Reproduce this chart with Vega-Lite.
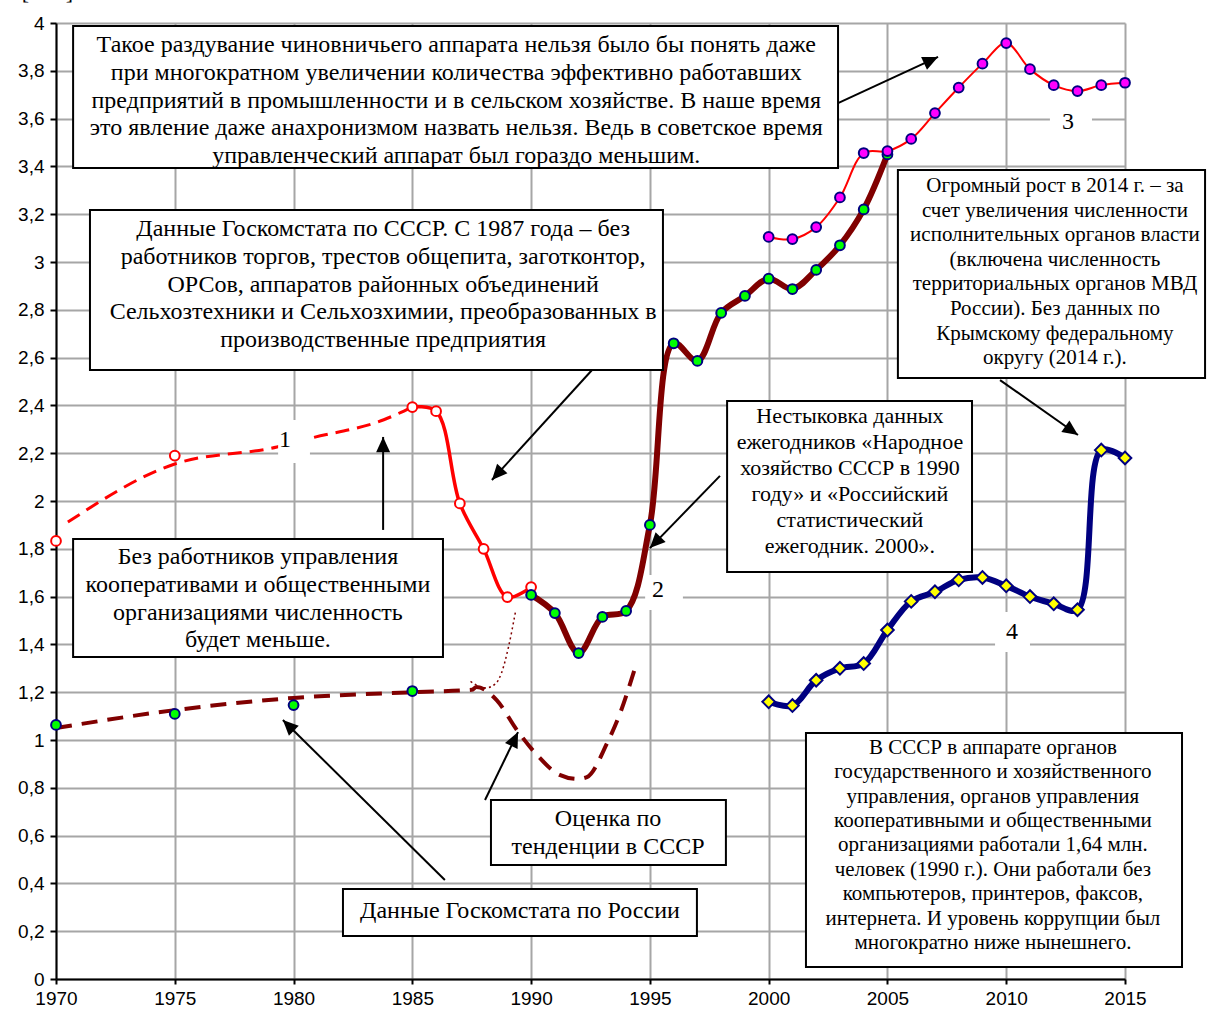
{
"$schema": "https://vega.github.io/schema/vega-lite/v6.json",
"width": 1069, "height": 956,
"autosize": {"type": "none"},
"padding": {"left": 56, "top": 23, "right": 83, "bottom": 35},
"background": "white",
"config": {
 "view": {"stroke": null},
 "axis": {"labelFont": "Liberation Sans", "labelFontSize": 19, "labelColor": "black", "tickColor": "black", "tickWidth": 2, "domainColor": "black", "domainWidth": 2, "gridColor": "#a6a6a6", "gridWidth": 2, "title": null}
},
"datasets": {
 "s1dash": [{"x":1970.5,"y":1.912},{"x":1975,"y":2.155},{"x":1979.3,"y":2.226},{"x":1980.7,"y":2.262},{"x":1983.8,"y":2.34},{"x":1985,"y":2.393}],
 "s1": [{"x":1970,"y":1.833},{"x":1975,"y":2.19},{"x":1985,"y":2.393},{"x":1986,"y":2.376},{"x":1987,"y":1.99},{"x":1988,"y":1.8},{"x":1989,"y":1.598},{"x":1990,"y":1.64}],
 "s2trend": [{"x":1970,"y":1.05},{"x":1975,"y":1.125},{"x":1980,"y":1.176},{"x":1985,"y":1.2},{"x":1987.5,"y":1.21},{"x":1987.7,"y":1.222},{"x":1988.55,"y":1.167},{"x":1989.4,"y":1.042},{"x":1990.25,"y":0.937},{"x":1991.2,"y":0.854},{"x":1991.95,"y":0.837},{"x":1992.35,"y":0.845},{"x":1993.2,"y":0.987},{"x":1993.75,"y":1.113},{"x":1994.37,"y":1.3}],
 "s2dot": [{"x":1987.45,"y":1.245},{"x":1988.08,"y":1.218},{"x":1988.5,"y":1.235},{"x":1988.75,"y":1.28},{"x":1989.05,"y":1.39},{"x":1989.34,"y":1.536}],
 "s2": [{"x":1970,"y":1.063},{"x":1975,"y":1.109},{"x":1980,"y":1.146},{"x":1985,"y":1.205},{"x":1990,"y":1.607},{"x":1991,"y":1.531},{"x":1992,"y":1.364},{"x":1993,"y":1.515},{"x":1994,"y":1.54},{"x":1995,"y":1.9},{"x":1996,"y":2.66},{"x":1997,"y":2.586},{"x":1998,"y":2.787},{"x":1999,"y":2.858},{"x":2000,"y":2.93},{"x":2001,"y":2.887},{"x":2002,"y":2.967},{"x":2003,"y":3.07},{"x":2004,"y":3.22},{"x":2005,"y":3.45}],
 "s3": [{"x":2000,"y":3.105},{"x":2001,"y":3.096},{"x":2002,"y":3.146},{"x":2003,"y":3.27},{"x":2004,"y":3.456},{"x":2005,"y":3.464},{"x":2006,"y":3.515},{"x":2007,"y":3.623},{"x":2008,"y":3.73},{"x":2009,"y":3.83},{"x":2010,"y":3.916},{"x":2011,"y":3.807},{"x":2012,"y":3.74},{"x":2013,"y":3.715},{"x":2014,"y":3.74},{"x":2015,"y":3.75}],
 "s4": [{"x":2000,"y":1.16},{"x":2001,"y":1.144},{"x":2002,"y":1.25},{"x":2003,"y":1.3},{"x":2004,"y":1.32},{"x":2005,"y":1.46},{"x":2006,"y":1.58},{"x":2007,"y":1.62},{"x":2008,"y":1.67},{"x":2009,"y":1.68},{"x":2010,"y":1.645},{"x":2011,"y":1.6},{"x":2012,"y":1.57},{"x":2013,"y":1.545},{"x":2014,"y":2.213},{"x":2015,"y":2.18}],
 "labels": [
  {"t":"1","x":1979.64,"y":2.255,"x1":1979.35,"x2":1980.69,"y1":2.339,"y2":2.159},
  {"t":"2","x":1995.34,"y":1.628,"x1":1994.8,"x2":1996.39,"y1":1.69,"y2":1.544},
  {"t":"3","x":2012.6,"y":3.586,"x1":2011.84,"x2":2013.61,"y1":3.678,"y2":3.51},
  {"t":"4","x":2010.24,"y":1.452,"x1":2009.53,"x2":2011.0,"y1":1.536,"y2":1.368}
 ],
 "arrows": [
  {"x1":2002.92,"y1":3.665,"x2":2007.13,"y2":3.858},
  {"x1":1993.83,"y1":2.686,"x2":1988.35,"y2":2.088},
  {"x1":1983.77,"y1":1.879,"x2":1983.77,"y2":2.268},
  {"x1":1986.37,"y1":0.414,"x2":1979.55,"y2":1.084},
  {"x1":1988.06,"y1":0.749,"x2":1989.45,"y2":1.033},
  {"x1":1997.95,"y1":2.105,"x2":1995.0,"y2":1.803},
  {"x1":2009.74,"y1":2.506,"x2":2013.02,"y2":2.276}
 ],
 "boxes": [
  {"id":"A","x1":1970.72,"x2":2002.92,"y1":3.987,"y2":3.393,"cx":1986.85,"cy":3.908,"t":"Такое раздувание чиновничьего аппарата нельзя было бы понять даже\nпри многократном увеличении количества эффективно работавших\nпредприятий в промышленности и в сельском хозяйстве. В наше время\nэто явление даже анахронизмом назвать нельзя. Ведь в советское время\nуправленческий аппарат был гораздо меньшим."},
  {"id":"B","x1":1971.43,"x2":1995.55,"y1":3.218,"y2":2.548,"cx":1983.77,"cy":3.138,"t":"Данные Госкомстата по СССР. С 1987 года – без\nработников торгов, трестов общепита, заготконтор,\nОРСов, аппаратов районных объединений\nСельхозтехники и Сельхозхимии, преобразованных в\nпроизводственные предприятия"},
  {"id":"C","x1":1970.72,"x2":1986.29,"y1":1.841,"y2":1.347,"cx":1978.5,"cy":1.766,"t":"Без работников управления\nкооперативами и общественными\nорганизациями  численность\nбудет меньше."},
  {"id":"D","x1":1988.31,"x2":1998.2,"y1":0.749,"y2":0.477,"cx":1993.24,"cy":0.669,"t":"Оценка по\nтенденции в СССР"},
  {"id":"E","x1":1982.08,"x2":1996.98,"y1":0.377,"y2":0.18,"cx":1989.53,"cy":0.285,"t":"Данные Госкомстата по России"},
  {"id":"F","x1":1998.25,"x2":2008.56,"y1":2.418,"y2":1.703,"cx":2003.42,"cy":2.356,"t":"Нестыковка данных\nежегодников «Народное\nхозяйство СССР в 1990\nгоду» и «Российский\nстатистический\nежегодник. 2000»."},
  {"id":"G","x1":2005.44,"x2":2018.37,"y1":3.385,"y2":2.515,"cx":2012.05,"cy":3.318,"t":"Огромный рост в 2014 г. – за\nсчет увеличения численности\nисполнительных органов власти\n(включена численность\nтерриториальных органов МВД\nРоссии). Без данных по\nКрымскому федеральному\nокругу (2014 г.)."},
  {"id":"H","x1":2001.57,"x2":2017.4,"y1":1.029,"y2":0.05,"cx":2009.44,"cy":0.967,"t":"В СССР в аппарате органов\nгосударственного и хозяйственного\nуправления, органов управления\nкооперативными и общественными\nорганизациями работали 1,64 млн.\nчеловек (1990 г.). Они работали без\nкомпьютеров, принтеров, факсов,\nинтернета. И уровень коррупции был\nмногократно ниже нынешнего."}
 ],
 "unit": [{"x":1969.75,"y":4.1,"t":"[млн]."}]
},
"layer": [
 {"data": {"name": "s1dash"},
  "mark": {"type": "line", "color": "#ff0000", "strokeWidth": 3, "strokeDash": [14, 8], "interpolate": "monotone"},
  "encoding": {
   "x": {"field": "x", "type": "quantitative", "scale": {"domain": [1970, 2015], "nice": false, "zero": false},
         "axis": {"values": [1970,1975,1980,1985,1990,1995,2000,2005,2010,2015], "format": "d", "tickSize": 5, "labelPadding": 5, "labelFlush": false, "grid": true, "title": null}},
   "y": {"field": "y", "type": "quantitative", "scale": {"domain": [0, 4], "nice": false, "zero": true},
         "axis": {"values": [0,0.2,0.4,0.6,0.8,1,1.2,1.4,1.6,1.8,2,2.2,2.4,2.6,2.8,3,3.2,3.4,3.6,3.8,4], "labelExpr": "replace(format(datum.value, '~g'), '.', ',')", "tickSize": 6, "labelPadding": 6, "grid": true, "title": null}}
  }},
 {"data": {"name": "s1"}, "transform": [{"filter": "datum.x >= 1985"}],
  "mark": {"type": "line", "color": "#ff0000", "strokeWidth": 3.5, "interpolate": "catmull-rom"},
  "encoding": {"x": {"field": "x", "type": "quantitative"}, "y": {"field": "y", "type": "quantitative"}}},
 {"data": {"name": "s2trend"},
  "mark": {"type": "line", "color": "#800000", "strokeWidth": 4, "strokeDash": [16, 10], "interpolate": "monotone"},
  "encoding": {"x": {"field": "x", "type": "quantitative"}, "y": {"field": "y", "type": "quantitative"}}},
 {"data": {"name": "s2dot"},
  "mark": {"type": "line", "color": "#800000", "strokeWidth": 1.5, "strokeDash": [2, 3], "interpolate": "monotone"},
  "encoding": {"x": {"field": "x", "type": "quantitative"}, "y": {"field": "y", "type": "quantitative"}}},
 {"data": {"name": "s2"}, "transform": [{"filter": "datum.x >= 1990"}],
  "mark": {"type": "line", "color": "#800000", "strokeWidth": 6, "interpolate": "catmull-rom"},
  "encoding": {"x": {"field": "x", "type": "quantitative"}, "y": {"field": "y", "type": "quantitative"}}},
 {"data": {"name": "s3"},
  "mark": {"type": "line", "color": "#ff0000", "strokeWidth": 2, "interpolate": "catmull-rom"},
  "encoding": {"x": {"field": "x", "type": "quantitative"}, "y": {"field": "y", "type": "quantitative"}}},
 {"data": {"name": "s4"},
  "mark": {"type": "line", "color": "#000080", "strokeWidth": 6, "interpolate": "catmull-rom"},
  "encoding": {"x": {"field": "x", "type": "quantitative"}, "y": {"field": "y", "type": "quantitative"}}},
 {"data": {"name": "s1"},
  "mark": {"type": "point", "shape": "circle", "filled": true, "fill": "white", "stroke": "#ff0000", "strokeWidth": 2, "size": 95, "opacity": 1},
  "encoding": {"x": {"field": "x", "type": "quantitative"}, "y": {"field": "y", "type": "quantitative"}}},
 {"data": {"name": "s2"},
  "mark": {"type": "point", "shape": "circle", "filled": true, "fill": "#00ff00", "stroke": "#000080", "strokeWidth": 2, "size": 95, "opacity": 1},
  "encoding": {"x": {"field": "x", "type": "quantitative"}, "y": {"field": "y", "type": "quantitative"}}},
 {"data": {"name": "s3"},
  "mark": {"type": "point", "shape": "circle", "filled": true, "fill": "#ff00ff", "stroke": "#000080", "strokeWidth": 2, "size": 95, "opacity": 1},
  "encoding": {"x": {"field": "x", "type": "quantitative"}, "y": {"field": "y", "type": "quantitative"}}},
 {"data": {"name": "s4"},
  "mark": {"type": "point", "shape": "diamond", "filled": true, "fill": "#ffff00", "stroke": "#000080", "strokeWidth": 2, "size": 160, "opacity": 1},
  "encoding": {"x": {"field": "x", "type": "quantitative"}, "y": {"field": "y", "type": "quantitative"}}},
 {"data": {"name": "labels"},
  "mark": {"type": "rect", "fill": "white", "stroke": null},
  "encoding": {"x": {"field": "x1", "type": "quantitative"}, "x2": {"field": "x2"}, "y": {"field": "y1", "type": "quantitative"}, "y2": {"field": "y2"}}},
 {"data": {"name": "labels"},
  "mark": {"type": "text", "font": "Liberation Serif", "fontSize": 24, "color": "black", "align": "center", "baseline": "middle"},
  "encoding": {"x": {"field": "x", "type": "quantitative"}, "y": {"field": "y", "type": "quantitative"}, "text": {"field": "t"}}},
 {"data": {"name": "arrows"},
  "mark": {"type": "rule", "color": "black", "strokeWidth": 2},
  "encoding": {"x": {"field": "x1", "type": "quantitative"}, "x2": {"field": "x2"}, "y": {"field": "y1", "type": "quantitative"}, "y2": {"field": "y2"}}},
 {"data": {"name": "arrows"},
  "transform": [{"calculate": "atan2((datum.x2 - datum.x1) * 23.756, (datum.y2 - datum.y1) * 239) * 180 / PI", "as": "ang"}],
  "mark": {"type": "point", "shape": "M0,0L0.5,1.1L-0.5,1.1Z", "filled": true, "color": "black", "size": 784, "opacity": 1},
  "encoding": {"x": {"field": "x2", "type": "quantitative"}, "y": {"field": "y2", "type": "quantitative"}, "angle": {"field": "ang", "type": "quantitative", "scale": null}}},
 {"data": {"name": "boxes"},
  "mark": {"type": "rect", "fill": "white", "stroke": "black", "strokeWidth": 2},
  "encoding": {"x": {"field": "x1", "type": "quantitative"}, "x2": {"field": "x2"}, "y": {"field": "y1", "type": "quantitative"}, "y2": {"field": "y2"}}},
 {"data": {"name": "boxes"}, "transform": [{"filter": "indexof(['A','B','C','D','E'], datum.id) >= 0"}],
  "mark": {"type": "text", "font": "Liberation Serif", "fontSize": 24, "lineHeight": 27.8, "lineBreak": "\n", "color": "black", "align": "center", "baseline": "middle"},
  "encoding": {"x": {"field": "cx", "type": "quantitative"}, "y": {"field": "cy", "type": "quantitative"}, "text": {"field": "t"}}},
 {"data": {"name": "boxes"}, "transform": [{"filter": "datum.id == 'F'"}],
  "mark": {"type": "text", "font": "Liberation Serif", "fontSize": 22, "lineHeight": 26, "lineBreak": "\n", "color": "black", "align": "center", "baseline": "middle"},
  "encoding": {"x": {"field": "cx", "type": "quantitative"}, "y": {"field": "cy", "type": "quantitative"}, "text": {"field": "t"}}},
 {"data": {"name": "boxes"}, "transform": [{"filter": "datum.id == 'G'"}],
  "mark": {"type": "text", "font": "Liberation Serif", "fontSize": 21, "lineHeight": 24.6, "lineBreak": "\n", "color": "black", "align": "center", "baseline": "middle"},
  "encoding": {"x": {"field": "cx", "type": "quantitative"}, "y": {"field": "cy", "type": "quantitative"}, "text": {"field": "t"}}},
 {"data": {"name": "boxes"}, "transform": [{"filter": "datum.id == 'H'"}],
  "mark": {"type": "text", "font": "Liberation Serif", "fontSize": 21, "lineHeight": 24.4, "lineBreak": "\n", "color": "black", "align": "center", "baseline": "middle"},
  "encoding": {"x": {"field": "cx", "type": "quantitative"}, "y": {"field": "cy", "type": "quantitative"}, "text": {"field": "t"}}},
 {"data": {"name": "unit"},
  "mark": {"type": "text", "font": "Liberation Serif", "fontSize": 22, "color": "black", "align": "center", "baseline": "alphabetic"},
  "encoding": {"x": {"field": "x", "type": "quantitative"}, "y": {"field": "y", "type": "quantitative"}, "text": {"field": "t"}}}
]
}
